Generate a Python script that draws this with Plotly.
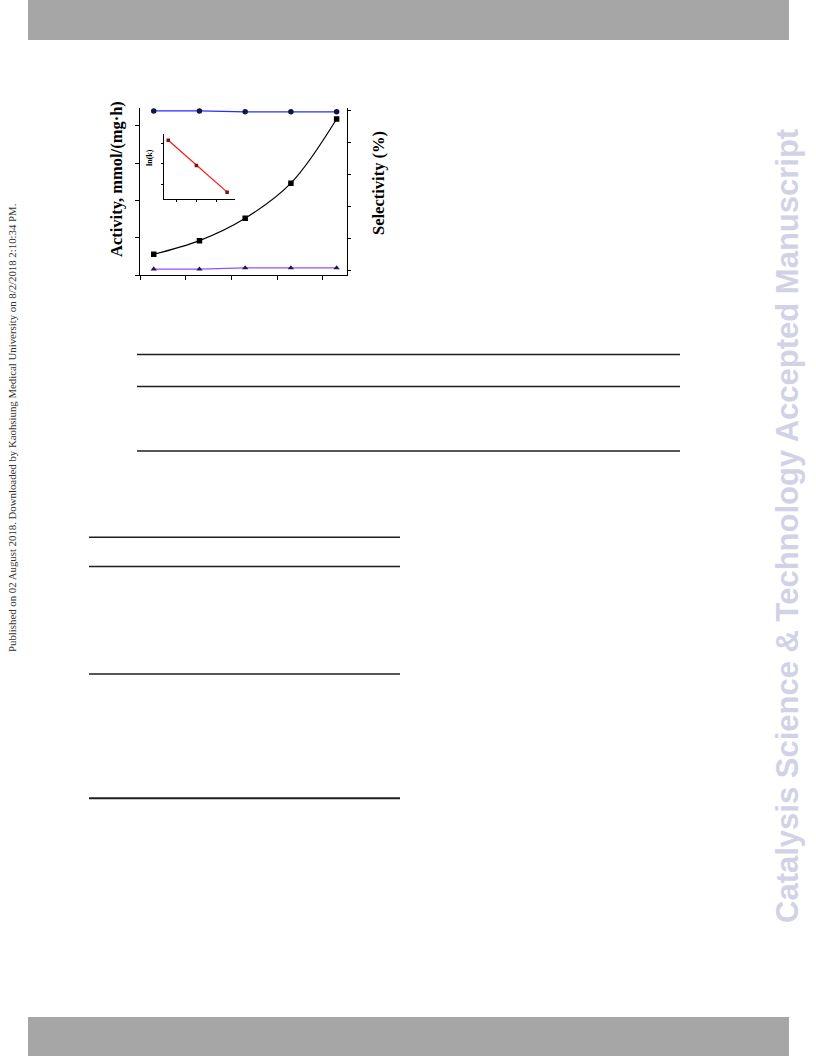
import plotly.graph_objects as go

W, H = 816, 1056

# ---- data ----
temperature = [30, 40, 50, 60, 70]
activity = [11.1, 18.4, 30.4, 49.2, 83.6]
selectivity_circle = [99.6, 99.6, 99.0, 99.0, 99.0]
selectivity_triangle = [1.0, 0.9, 1.7, 1.7, 1.7]
x_ticks = [27, 37, 47, 57, 67]
act_ticks = [0, 20, 40, 60, 80]
sel_ticks = [0, 20, 40, 60, 80, 100]

inset_x = [0.57, 2.0, 3.56]
inset_lnk = [3.15, 1.92, 0.62]
inset_xticks = [1, 2, 3]
inset_yticks = [1, 2, 3]

def px(x):
    return x / W

def py(y):
    return 1 - y / H

fig = go.Figure()

# activity (squares) with smooth curve
fig.add_trace(go.Scatter(
    x=temperature, y=activity, mode="lines+markers",
    line=dict(color="black", width=1.2, shape="spline", smoothing=1.0),
    marker=dict(symbol="square", size=5.5, color="black"),
    xaxis="x", yaxis="y", showlegend=False))

# selectivity circles
fig.add_trace(go.Scatter(
    x=temperature, y=selectivity_circle, mode="lines+markers",
    line=dict(color="#2b2bff", width=1.3),
    marker=dict(symbol="circle", size=5.5, color="#14143c"),
    xaxis="x", yaxis="y2", showlegend=False))

# selectivity triangles
fig.add_trace(go.Scatter(
    x=temperature, y=selectivity_triangle, mode="lines+markers",
    line=dict(color="#9a4dff", width=1.3),
    marker=dict(symbol="triangle-up", size=5.5, color="#24164a"),
    xaxis="x", yaxis="y2", showlegend=False))

# inset
fig.add_trace(go.Scatter(
    x=inset_x, y=inset_lnk, mode="lines+markers",
    line=dict(color="#ff1010", width=1.2),
    marker=dict(symbol="square", size=3.5, color="#7a1010"),
    xaxis="x3", yaxis="y3", showlegend=False))

axis_common = dict(showgrid=False, zeroline=False, showline=True,
                   linecolor="black", linewidth=1.3, ticks="outside",
                   tickcolor="black", tickwidth=1.2, showticklabels=False)

fig.update_layout(
    width=W, height=H, margin=dict(l=0, r=0, t=0, b=0),
    paper_bgcolor="white", plot_bgcolor="rgba(0,0,0,0)",
    xaxis=dict(domain=[px(140), px(346.7)], range=[27, 72.2],
               tickvals=x_ticks, ticklen=4, anchor="y", **axis_common),
    yaxis=dict(domain=[py(275), py(108)], range=[0, 89.5],
               tickvals=act_ticks, ticklen=4, anchor="x", **axis_common),
    yaxis2=dict(domain=[py(275), py(108)], range=[-2.7, 101.4],
                tickvals=sel_ticks, ticklen=3, overlaying="y", side="right",
                anchor="x", **axis_common),
    xaxis3=dict(domain=[px(164.3), px(235)], range=[0.37, 3.96],
                tickvals=inset_xticks, ticklen=2.5, anchor="y3",
                **{**axis_common, "linewidth": 1.0, "tickwidth": 0.8}),
    yaxis3=dict(domain=[py(198.7), py(134.3)], range=[0.30, 3.44],
                tickvals=inset_yticks, ticklen=2.5, anchor="x3",
                **{**axis_common, "linewidth": 1.0, "tickwidth": 0.8}),
)

serif = "Liberation Serif, Times New Roman, serif"

annotations = [
    dict(text="<b>Activity, mmol/(mg·h)</b>", x=px(117), y=py(179),
         textangle=-90, font=dict(family=serif, size=16.5, color="black")),
    dict(text="<b>Selectivity (%)</b>", x=px(378), y=py(183),
         textangle=-90, font=dict(family=serif, size=16.5, color="black")),
    dict(text="<b>ln(k)</b>", x=px(149), y=py(158),
         textangle=-90, font=dict(family=serif, size=8, color="black")),
    dict(text="Published on 02 August 2018. Downloaded by Kaohsiung Medical University on 8/2/2018 2:10:34 PM.",
         x=px(12), y=py(428), textangle=-90,
         font=dict(family=serif, size=10.8, color="#333333")),
    dict(text="<b>Catalysis Science &amp; Technology Accepted Manuscript</b>",
         x=px(787), y=py(526), textangle=-90,
         font=dict(family="Liberation Sans, Arial, sans-serif", size=31,
                   color="#d2d2e6")),
]
for a in annotations:
    a.update(xref="paper", yref="paper", showarrow=False,
             xanchor="center", yanchor="middle")
fig.update_layout(annotations=annotations)

shapes = [
    # header and footer bars
    dict(type="rect", x0=px(28), x1=px(789), y0=py(40), y1=py(0),
         fillcolor="#a6a6a6", line=dict(width=0)),
    dict(type="rect", x0=px(28), x1=px(789), y0=py(1056), y1=py(1017),
         fillcolor="#a6a6a6", line=dict(width=0)),
]
# table rules
for yy in [354.5, 386.5, 451]:
    shapes.append(dict(type="line", x0=px(137), x1=px(680), y0=py(yy), y1=py(yy),
                       line=dict(color="#1e1e1e", width=1.6)))
for yy, wdt in [(537.3, 1.6), (566.5, 1.6), (674, 1.6), (798.3, 2.0)]:
    shapes.append(dict(type="line", x0=px(89), x1=px(400), y0=py(yy), y1=py(yy),
                       line=dict(color="#1e1e1e", width=wdt)))
for s in shapes:
    s.update(xref="paper", yref="paper", layer="below")
fig.update_layout(shapes=shapes)

fig.write_html("out.html", config={"displayModeBar": False},
               post_script="document.body.style.margin='0';document.body.style.overflow='hidden';")
